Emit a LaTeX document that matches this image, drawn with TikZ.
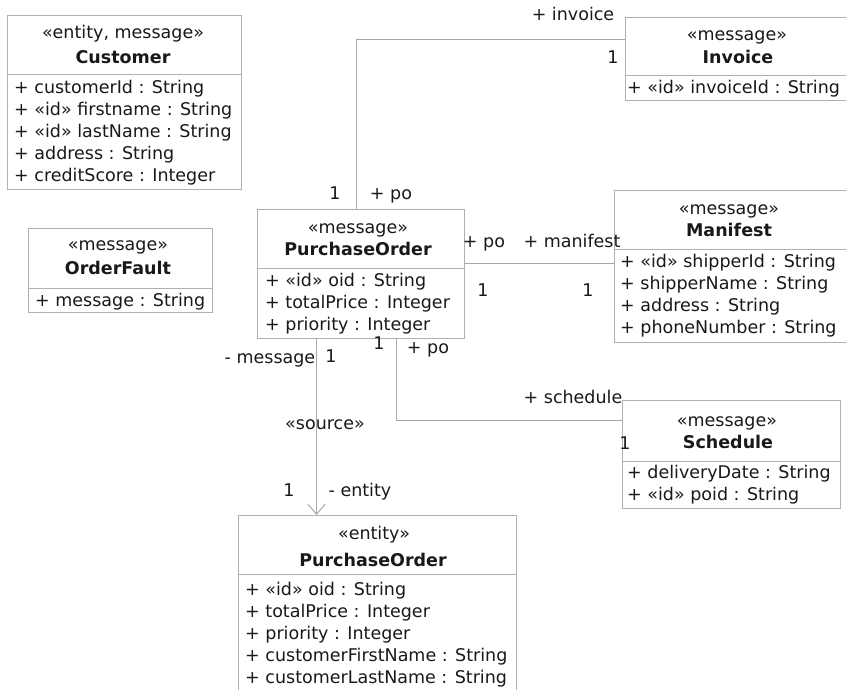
\documentclass[tikz,border=0pt]{standalone}
\usepackage{fontspec}
\setmainfont{DejaVu Sans}
\usetikzlibrary{arrows.meta}
\definecolor{boxc}{RGB}{176,176,176}
\definecolor{linec}{RGB}{168,168,168}
\definecolor{txtc}{RGB}{25,25,25}
\newcommand\attrlines[3]{\foreach \attrtext [count=\i from 0] in {#3} {\node[txt,anchor=west] at (#1,{#2+22*\i}) {\attrtext};}}
\begin{document}
\begin{tikzpicture}[x=1pt,y=-1pt,
  txt/.style={inner sep=0pt, text height=12.8pt, text depth=0pt, text=txtc, font=\fontsize{17.5}{22}\selectfont},
  ttl/.style={inner sep=0pt, text height=12.8pt, text depth=0pt, text=txtc, font=\fontsize{17.5}{22}\selectfont\bfseries},
  umlbox/.style={draw=boxc, line width=1pt, fill=white, inner sep=0pt, anchor=north west},
  sepline/.style={draw=boxc, line width=1pt},
  conn/.style={draw=linec, line width=1pt},
]
\useasboundingbox (0,0) rectangle (846,689);
\fill[white] (0,0) rectangle (846,689);
\clip (0,0) rectangle (846,689);

% Customer
\node[umlbox, minimum width=234pt, minimum height=174pt] (cust) at (7,15) {};
\draw[sepline] (cust.west |- 0,74) -- (cust.east |- 0,74);
\node[txt] (custst) at (123,32) {«entity, message»};
\node[ttl] (custti) at (123,57) {Customer};
\attrlines{14}{87}{+ customerId : String, + «id» firstname : String, + «id» lastName : String, + address : String, + creditScore : Integer}

% Invoice
\node[umlbox, minimum width=225pt, minimum height=83pt] (inv) at (625,17) {};
\draw[sepline] (inv.west |- 0,75) -- (inv.east |- 0,75);
\node[txt] (invst) at (737,34) {«message»};
\node[ttl] (invti) at (738,57) {Invoice};
\attrlines{627}{87}{+ «id» invoiceId : String}

% PurchaseOrder (message)
\node[umlbox, minimum width=207pt, minimum height=129pt] (poM) at (257,209) {};
\draw[sepline] (poM.west |- 0,268) -- (poM.east |- 0,268);
\node[txt] (poMst) at (358,227) {«message»};
\node[ttl] (poMti) at (358,249) {PurchaseOrder};
\attrlines{265}{280}{+ «id» oid : String, + totalPrice : Integer, + priority : Integer}

% OrderFault
\node[umlbox, minimum width=184pt, minimum height=84pt] (fault) at (28,228) {};
\draw[sepline] (fault.west |- 0,288) -- (fault.east |- 0,288);
\node[txt] (faultst) at (118,244) {«message»};
\node[ttl] (faultti) at (118,268) {OrderFault};
\attrlines{35}{300}{+ message : String}

% Manifest
\node[umlbox, minimum width=234pt, minimum height=152pt] (man) at (614,190) {};
\draw[sepline] (man.west |- 0,249) -- (man.east |- 0,249);
\node[txt] (manst) at (729,208) {«message»};
\node[ttl] (manti) at (729,230) {Manifest};
\attrlines{620}{261}{+ «id» shipperId : String, + shipperName : String, + address : String, + phoneNumber : String}

% Schedule
\node[umlbox, minimum width=218pt, minimum height=108pt] (sched) at (622,400) {};
\draw[sepline] (sched.west |- 0,461) -- (sched.east |- 0,461);
\node[txt] (schedst) at (727,420) {«message»};
\node[ttl] (schedti) at (728,442) {Schedule};
\attrlines{627}{472}{+ deliveryDate : String, + «id» poid : String}

% PurchaseOrder (entity)
\node[umlbox, minimum width=278pt, minimum height=200pt] (ent) at (238,515) {};
\draw[sepline] (ent.west |- 0,574) -- (ent.east |- 0,574);
\node[txt] (entst) at (374,533) {«entity»};
\node[ttl] (entti) at (373,560) {PurchaseOrder};
\attrlines{245}{589}{+ «id» oid : String, + totalPrice : Integer, + priority : Integer, + customerFirstName : String, + customerLastName : String}

% Connectors
\draw[conn] ([xshift=-4.5pt]poM.north) |- ([yshift=20pt]inv.west);
\draw[conn] ([yshift=10.5pt]poM.east) -- ([yshift=10.5pt]poM.east -| man.west);
\draw[conn] ([xshift=35.5pt]poM.south) |- ([yshift=34pt]sched.west);
\draw[conn, -{Straight Barb[length=10pt,width=17pt]}] ([xshift=-44.5pt]poM.south) -- ([xshift=-44.5pt]poM.south |- ent.north);

% Labels
\node[txt] (l1) at (573,14) {+ invoice};
\node[txt] (l2) at (613,57) {1};
\node[txt] (l3) at (335,193) {1};
\node[txt] (l4) at (391,193) {+ po};
\node[txt] (l5) at (484,241) {+ po};
\node[txt] (l6) at (572,241) {+ manifest};
\node[txt] (l7) at (483,290) {1};
\node[txt] (l8) at (588,290) {1};
\node[txt] (l9) at (270,357) {- message};
\node[txt] (l10) at (331,356) {1};
\node[txt] (l11) at (379,343) {1};
\node[txt] (l12) at (428,347) {+ po};
\node[txt] (l13) at (573,397) {+ schedule};
\node[txt] (l14) at (625,443) {1};
\node[txt] (l15) at (325,423) {«source»};
\node[txt] (l16) at (289,490) {1};
\node[txt] (l17) at (360,490) {- entity};
\end{tikzpicture}
\end{document}
